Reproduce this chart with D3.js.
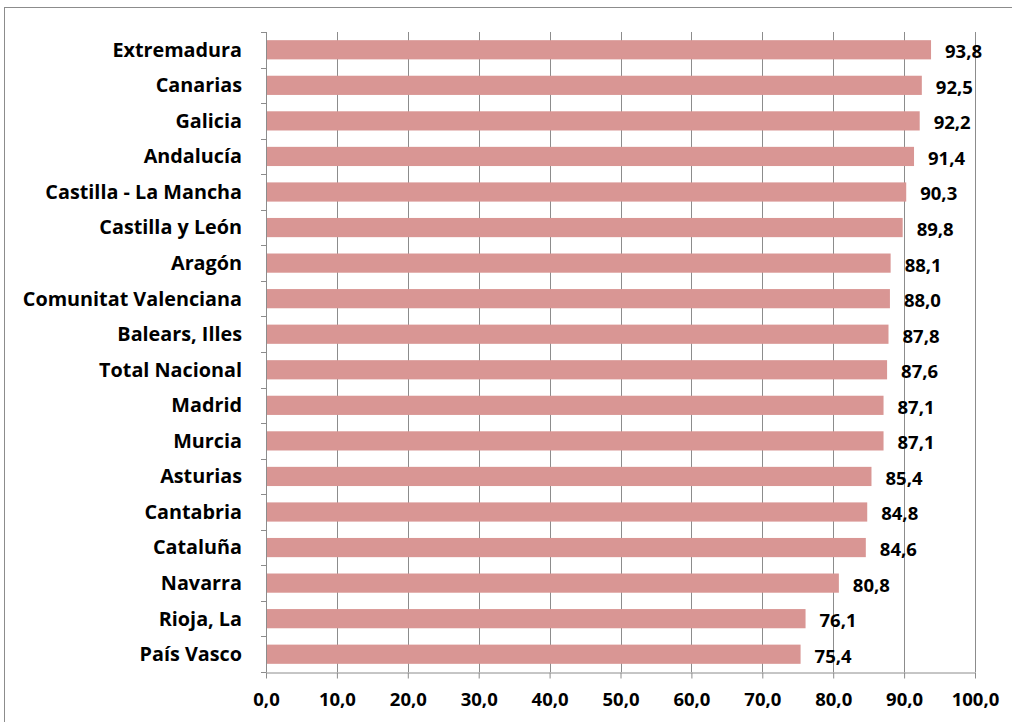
<!DOCTYPE html>
<meta charset="utf-8">
<head>
<title>Comunidades</title>
<script src="https://cdn.jsdelivr.net/npm/d3@7"></script>
<style>
  body { margin: 0; background: #fff; }
  text { font-family: "Open Sans", Lato, sans-serif; font-weight: bold; fill: #000; }
  .grid line { stroke: #8c8c8c; stroke-width: 1; }
  .axis path, .axis line { stroke: #8c8c8c; }
</style>
</head>
<body>
<div id="chart"></div>
<script>
// data
var regions = ["Extremadura", "Canarias", "Galicia", "Andalucía", "Castilla - La Mancha",
  "Castilla y León", "Aragón", "Comunitat Valenciana", "Balears, Illes", "Total Nacional",
  "Madrid", "Murcia", "Asturias", "Cantabria", "Cataluña", "Navarra", "Rioja, La", "País Vasco"];
var values = [93.8, 92.5, 92.2, 91.4, 90.3, 89.8, 88.1, 88.0, 87.8, 87.6,
  87.1, 87.1, 85.4, 84.8, 84.6, 80.8, 76.1, 75.4];
var xTicks = [0, 10, 20, 30, 40, 50, 60, 70, 80, 90, 100];

var width = 1012, height = 722;
var margin = {top: 32, right: 37, bottom: 50, left: 266};
var labelSize = "19.8px", numSize = "18.5px";

var svg = d3.select("#chart").append("svg")
    .attr("width", width)
    .attr("height", height);

// outer chart frame
svg.append("rect")
    .attr("x", 4.5).attr("y", 7.5)
    .attr("width", width + 10).attr("height", height + 10)
    .attr("fill", "none").attr("stroke", "#8c8c8c");

var x = d3.scaleLinear().domain([0, 100]).range([margin.left, width - margin.right]);
var y = d3.scaleBand().domain(regions)
    .range([margin.top, height - margin.bottom])
    .paddingInner(0.46).paddingOuter(0.23);

var fmt = function(v) { return d3.format(".1f")(v).replace(".", ","); };

// vertical gridlines
svg.append("g").attr("class", "grid")
  .selectAll("line")
  .data(xTicks.slice(1))
  .enter().append("line")
    .attr("x1", function(d) { return Math.round(x(d)) + 0.5; })
    .attr("x2", function(d) { return Math.round(x(d)) + 0.5; })
    .attr("y1", margin.top)
    .attr("y2", height - margin.bottom);

// bars
svg.append("g").selectAll("rect")
  .data(values)
  .enter().append("rect")
    .attr("x", x(0))
    .attr("y", function(d, i) { return y(regions[i]); })
    .attr("width", function(d) { return x(d) - x(0); })
    .attr("height", y.bandwidth())
    .attr("fill", "#d99694");

// value labels
svg.append("g").selectAll("text")
  .data(values)
  .enter().append("text")
    .attr("x", function(d) { return x(d) + 14; })
    .attr("y", function(d, i) { return y(regions[i]) + y.bandwidth() / 2 + 2; })
    .attr("dy", "0.35em")
    .style("font-size", numSize)
    .text(fmt);

// x axis
var xAxis = svg.append("g").attr("class", "axis")
    .attr("transform", "translate(0," + (Math.round(height - margin.bottom) + 0.5) + ")")
    .call(d3.axisBottom(x).tickValues(xTicks).tickFormat(fmt).tickSize(6).tickSizeOuter(0));
xAxis.selectAll("text").style("font-size", numSize).attr("dy", "1.3em");

// y axis with ticks between categories
var bounds = d3.range(regions.length + 1).map(function(i) { return margin.top + i * (height - margin.bottom - margin.top) / regions.length; });
var yAxis = svg.append("g").attr("class", "axis");
yAxis.append("line")
    .attr("x1", Math.round(x(0)) + 0.5).attr("x2", Math.round(x(0)) + 0.5)
    .attr("y1", margin.top).attr("y2", height - margin.bottom);
yAxis.selectAll(".tk")
  .data(bounds)
  .enter().append("line")
    .attr("class", "tk")
    .attr("x1", Math.round(x(0)) - 5).attr("x2", Math.round(x(0)) + 0.5)
    .attr("y1", function(d) { return Math.round(d) + 0.5; })
    .attr("y2", function(d) { return Math.round(d) + 0.5; });
yAxis.selectAll("text")
  .data(regions)
  .enter().append("text")
    .attr("x", x(0) - 24)
    .attr("y", function(d) { return y(d) + y.bandwidth() / 2; })
    .attr("dy", "0.35em")
    .attr("text-anchor", "end")
    .style("font-size", labelSize)
    .text(function(d) { return d; });
</script>
</body>
</html>
